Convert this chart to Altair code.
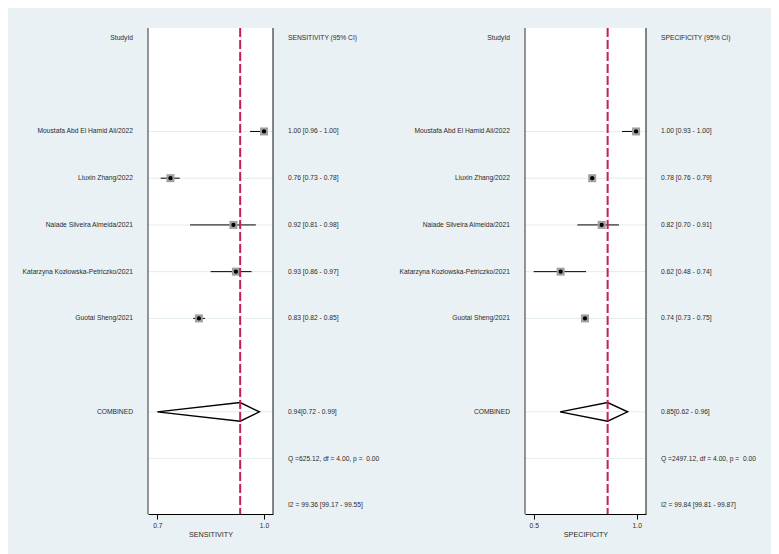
import altair as alt
import pandas as pd

# ---------------- data ----------------
studies = [
    "Moustafa Abd El Hamid Ali/2022",
    "Liuxin Zhang/2022",
    "Naiade Silveira Almeida/2021",
    "Katarzyna Kozłowska-Petriczko/2021",
    "Guotai Sheng/2021",
]
study_rows = [2, 3, 4, 5, 6]
combined_row = 8
q_row = 9
i2_row = 10

# sensitivity (positions as drawn)
sens_est = [1.00, 0.737, 0.914, 0.921, 0.817]
sens_lo = [0.961, 0.7095, 0.792, 0.850, 0.801]
sens_hi = [1.00, 0.763, 0.977, 0.965, 0.834]
sens_pool = [0.933, 0.700, 0.987]  # est, lo, hi
sens_text = [
    "1.00 [0.96 - 1.00]",
    "0.76 [0.73 - 0.78]",
    "0.92 [0.81 - 0.98]",
    "0.93 [0.86 - 0.97]",
    "0.83 [0.82 - 0.85]",
]
sens_pool_text = "0.94[0.72 - 0.99]"
sens_q_text = "Q =625.12, df = 4.00, p =\u00a0 0.00"
sens_i2_text = "I2 = 99.36 [99.17 - 99.55]"

# specificity (positions as drawn)
spec_est = [0.997, 0.784, 0.830, 0.631, 0.749]
spec_lo = [0.929, 0.776, 0.712, 0.500, 0.745]
spec_hi = [1.00, 0.790, 0.914, 0.754, 0.753]
spec_pool = [0.859, 0.628, 0.956]
spec_text = [
    "1.00 [0.93 - 1.00]",
    "0.78 [0.76 - 0.79]",
    "0.82 [0.70 - 0.91]",
    "0.62 [0.48 - 0.74]",
    "0.74 [0.73 - 0.75]",
]
spec_pool_text = "0.85[0.62 - 0.96]"
spec_q_text = "Q =2497.12, df = 4.00, p =\u00a0 0.00"
spec_i2_text = "I2 = 99.84 [99.81 - 99.87]"

sens_ticks = [0.7, 1.0]
spec_ticks = [0.5, 1.0]

# ---------------- layout / style ----------------
BG = "#eaf1f4"
H = 486
YDOM = [-0.214, 10.186]
FS = 6.7
FONT = "Liberation Sans"
TXT = "#2a2a2a"
DASH = "#c81e50"

yscale = alt.Scale(domain=YDOM, reverse=True, nice=False, zero=False)


def label_col(width, header):
    df = pd.DataFrame({
        "row": [0] + study_rows + [combined_row],
        "txt": [header] + studies + ["COMBINED"],
    })
    return alt.Chart(df).mark_text(
        align="right", baseline="middle", fontSize=FS, font=FONT, color=TXT
    ).encode(
        x=alt.value(width - 15),
        y=alt.Y("row:Q", scale=yscale, axis=None),
        text="txt:N",
    ).properties(width=width, height=H)


def value_col(width, header, texts, pool_text, q_text, i2_text):
    df = pd.DataFrame({
        "row": [0] + study_rows + [combined_row, q_row, i2_row],
        "txt": [header] + texts + [pool_text, q_text, i2_text],
    })
    return alt.Chart(df).mark_text(
        align="left", baseline="middle", fontSize=FS, font=FONT, color=TXT
    ).encode(
        x=alt.value(15),
        y=alt.Y("row:Q", scale=yscale, axis=None),
        text="txt:N",
    ).properties(width=width, height=H)


def forest(width, dom, ticks, title, est, lo, hi, pool):
    xs = alt.Scale(domain=dom, nice=False, zero=False)
    st = pd.DataFrame({"row": study_rows, "est": est, "lo": lo, "hi": hi})
    e, l, h = pool
    dia = pd.DataFrame({
        "x": [l, e, h, e, l],
        "row": [combined_row, combined_row - 0.2, combined_row,
                combined_row + 0.2, combined_row],
        "o": [0, 1, 2, 3, 4],
    })
    pdf = pd.DataFrame({"est": [e]})
    grid = pd.DataFrame({"row": study_rows + [combined_row, q_row]})

    xaxis = alt.Axis(
        values=ticks, format=".1f", title=title, grid=False,
        domainColor="#000000", domainWidth=1, tickColor="#000000",
        tickSize=5, labelFontSize=FS, labelFont=FONT, labelColor=TXT,
        labelPadding=3, titleFontSize=7.2, titleFont=FONT,
        titleFontWeight="normal", titleColor=TXT, titlePadding=2,
    )

    base = alt.Chart(st)
    gridl = alt.Chart(grid).mark_rule(color="#e3ecef", strokeWidth=1).encode(
        y=alt.Y("row:Q", scale=yscale, axis=None),
    )
    ci = base.mark_rule(color="#000000", strokeWidth=1).encode(
        x=alt.X("lo:Q", scale=xs, axis=xaxis),
        x2="hi:Q",
        y=alt.Y("row:Q", scale=yscale, axis=None),
    )
    sq = base.mark_square(size=64, color="#a0a0a0", opacity=1).encode(
        x="est:Q", y="row:Q"
    )
    dot = base.mark_circle(size=18, color="#000000", opacity=1).encode(
        x="est:Q", y="row:Q"
    )
    diamond = alt.Chart(dia).mark_line(color="#000000", strokeWidth=1.4).encode(
        x="x:Q", y="row:Q", order="o:Q"
    )
    dash = alt.Chart(pdf).mark_rule(
        color=DASH, strokeWidth=2, strokeDash=[9, 3]
    ).encode(x="est:Q")
    lborder = alt.Chart(pdf).mark_rule(color="#333333", strokeWidth=1).encode(
        x=alt.value(0), y=alt.value(0), y2=alt.value(H)
    )
    rborder = alt.Chart(pdf).mark_rule(color="#111111", strokeWidth=1).encode(
        x=alt.value(width), y=alt.value(0), y2=alt.value(H)
    )
    return alt.layer(
        gridl, ci, sq, dot, diamond, dash, lborder, rborder
    ).properties(
        width=width, height=H,
        view=alt.ViewBackground(fill="#ffffff", stroke=None),
    )


left_labels = label_col(140, "StudyId")
left_plot = forest(125, [0.6738, 1.0253], sens_ticks, "SENSITIVITY",
                   sens_est, sens_lo, sens_hi, sens_pool)
left_vals = value_col(120, "SENSITIVITY (95% CI)", sens_text,
                      sens_pool_text, sens_q_text, sens_i2_text)
right_labels = label_col(132, "StudyId")
right_plot = forest(121, [0.4578, 1.0452], spec_ticks, "SPECIFICITY",
                    spec_est, spec_lo, spec_hi, spec_pool)
right_vals = value_col(125, "SPECIFICITY (95% CI)", spec_text,
                       spec_pool_text, spec_q_text, spec_i2_text)

chart = alt.hconcat(
    left_labels, left_plot, left_vals, right_labels, right_plot, right_vals,
    spacing=0, bounds="flush",
).properties(
    background=BG,
    padding={"top": 19, "left": 0, "right": 0, "bottom": 20},
).configure_view(
    stroke=None
)

chart.save("out.html", embed_options={"renderer": "svg", "actions": False})
